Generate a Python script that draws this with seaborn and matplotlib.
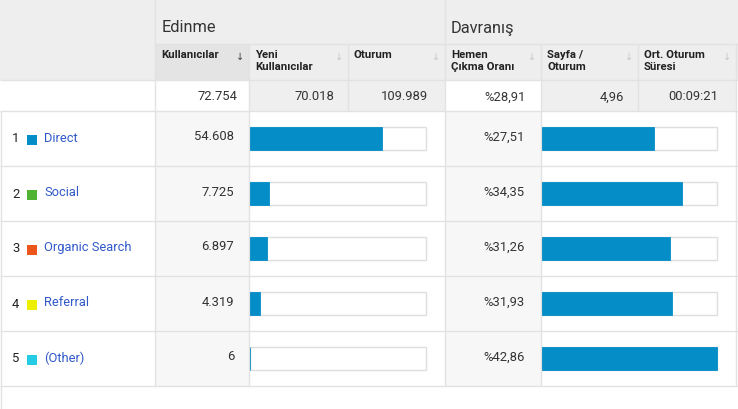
import numpy as np
import pandas as pd
import matplotlib
matplotlib.use("Agg")
import matplotlib.pyplot as plt
from matplotlib.patches import Rectangle
import seaborn as sns

# ---------------- data ----------------
channels = ["Direct", "Social", "Organic Search", "Referral", "(Other)"]
channel_colors = ["#058dc7", "#50b432", "#ed561b", "#edef00", "#24cbe5"]
users = [54608, 7725, 6897, 4319, 6]
users_labels = ["54.608", "7.725", "6.897", "4.319", "6"]
bounce = [27.51, 34.35, 31.26, 31.93, 42.86]
bounce_labels = ["%27,51", "%34,35", "%31,26", "%31,93", "%42,86"]
total_users = 72754
group_titles = ["Edinme", "Davranış"]
column_titles = ["Kullanıcılar", "Yeni\nKullanıcılar", "Oturum",
                 "Hemen\nÇıkma Oranı", "Sayfa /\nOturum", "Ort. Oturum\nSüresi"]
total_labels = ["72.754", "70.018", "109.989", "%28,91", "4,96", "00:09:21"]

df = pd.DataFrame({"channel": channels, "users": users, "bounce": bounce})

# ---------------- figure ----------------
sns.set_theme(style="white")
plt.rcParams["font.family"] = ["Roboto", "DejaVu Sans"]
W, H = 738, 409
fig = plt.figure(figsize=(W / 100, H / 100), dpi=100)
bg = fig.add_axes([0, 0, 1, 1])
bg.set_xlim(0, W)
bg.set_ylim(H, 0)
bg.axis("off")

LINE = "#e2e2e2"
HEAD = "#eeeeee"
SORTED = "#e4e4e4"
SHADE = "#f7f7f7"

def rect(x0, y0, x1, y1, color):
    bg.add_patch(Rectangle((x0, y0), x1 - x0, y1 - y0, facecolor=color,
                           edgecolor="none", zorder=0))

def hline(y, x0=0, x1=W):
    bg.plot([x0, x1], [y, y], color=LINE, lw=1, zorder=1, solid_capstyle="butt")

def vline(x, y0, y1):
    bg.plot([x, x], [y0, y1], color=LINE, lw=1, zorder=1, solid_capstyle="butt")

cols = [155, 249, 348, 445, 541, 638, 736]
row_top = 111
row_h = 55
n = len(channels)
rows_bottom = row_top + row_h * n

# header backgrounds
rect(0, 0, W, 44, HEAD)
rect(0, 44, W, 80, HEAD)
rect(cols[0], 44, cols[1], 80, SORTED)
# totals row
rect(0, 80, W, 111, "white")
for i in [1, 2, 4, 5]:
    rect(cols[i], 80, cols[i + 1], 111, "#efefef")
# data rows shading
rect(cols[0], row_top, cols[1], rows_bottom, SHADE)
rect(cols[3], row_top, cols[4], rows_bottom, SHADE)

# lines
hline(44, cols[0], W)
hline(80)
hline(111)
for i in range(1, n + 1):
    hline(row_top + row_h * i)
for c in [cols[0], cols[3]]:
    vline(c, 0, rows_bottom)
for c in [cols[1], cols[4]]:
    vline(c, 44, rows_bottom)
for c in [cols[2], cols[5]]:
    vline(c, 44, 111)
vline(cols[6], 44, rows_bottom)
vline(1, row_top, H)

# header texts
bg.text(cols[0] + 7, 28, group_titles[0], fontsize=11.8, color="#333333", va="center")
bg.text(cols[3] + 6, 28, group_titles[1], fontsize=11.8, color="#333333", va="center")
for i, t in enumerate(column_titles):
    bg.text(cols[i] + 6, 49.5, t, fontsize=8.2, fontweight="bold", color="#222222",
            va="top", linespacing=1.35)
    bg.text(cols[i + 1] - 9, 57, "↓", fontsize=7,
            color="#444444" if i == 0 else "#c8c8c8", ha="center", va="center",
            family=["DejaVu Sans"])

total_right = [237, 334, 428, 526, 624, 718]
for x, t in zip(total_right, total_labels):
    bg.text(x, 97, t, fontsize=9.4, color="#333333", ha="right", va="center")

# row labels and values
for i in range(n):
    yc = row_top + row_h * i + 27
    bg.text(12, yc + 1, str(i + 1), fontsize=9.4, color="#222222", va="center")
    bg.add_patch(Rectangle((27, yc - 3), 9.5, 9.5, facecolor=channel_colors[i],
                           edgecolor="none", zorder=2))
    bg.text(44, yc, channels[i], fontsize=9.3, color="#3058c8", va="center")
    bg.text(234, yc - 1, users_labels[i], fontsize=9.4, color="#333333",
            ha="right", va="center")
    bg.text(525, yc - 1, bounce_labels[i], fontsize=9.4, color="#333333",
            ha="right", va="center")

# ---------------- bars (seaborn) ----------------
BLUE = "#058dc7"
BOX_EDGE = "#dedede"
bar_w = 23 / 55

def bar_axes(x0, x1):
    return fig.add_axes([x0 / W, (H - rows_bottom) / H, (x1 - x0) / W, (rows_bottom - row_top) / H])

ax1 = bar_axes(250, 426)
sns.barplot(x=np.full(n, total_users), y=df["channel"], orient="h", color="white",
            edgecolor=BOX_EDGE, linewidth=1, width=bar_w, saturation=1, ax=ax1)
sns.barplot(data=df, x="users", y="channel", orient="h", color=BLUE,
            edgecolor=BLUE, linewidth=0.6, width=bar_w, saturation=1, ax=ax1)
ax1.set_xlim(0, total_users)

ax2 = bar_axes(542, 717)
sns.barplot(x=np.full(n, max(bounce)), y=df["channel"], orient="h", color="white",
            edgecolor=BOX_EDGE, linewidth=1, width=bar_w, saturation=1, ax=ax2)
sns.barplot(data=df, x="bounce", y="channel", orient="h", color=BLUE,
            edgecolor=BLUE, linewidth=0.6, width=bar_w, saturation=1, ax=ax2)
ax2.set_xlim(0, max(bounce))

for ax in (ax1, ax2):
    ax.set_ylim(n - 0.5, -0.5)
    ax.axis("off")
    ax.patch.set_alpha(0)
    for p in ax.patches:
        p.set_clip_on(False)

fig.savefig("out.png", dpi=100)
